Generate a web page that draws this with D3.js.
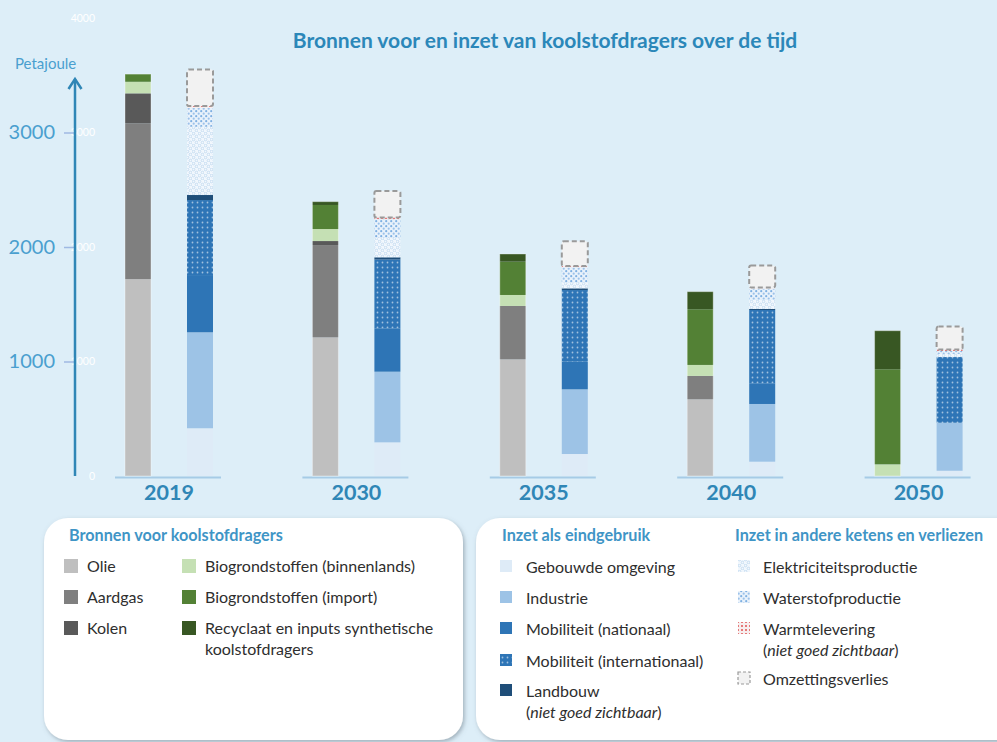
<!DOCTYPE html>
<meta charset="utf-8">
<style>
    body { margin: 0; background: #ddeef8; }
    svg { display: block; font-family: Lato, "Open Sans", sans-serif; }
    .leg text { font-size: 16px; fill: #2e2e2e; }
    .leg .head { font-size: 16.2px; font-weight: bold; fill: #3f95c6; }
</style>
<body>
<script src="https://d3js.org/d3.v7.min.js"></script>
<script>
    var width = 997,
        height = 742;

    // values in petajoule
    var years = ["2019", "2030", "2035", "2040", "2050"];

    // bronnen (left bar)
    var olie       = [1720, 1211, 1019, 670, 0];
    var aardgas    = [1360, 806, 466, 204, 0];
    var kolen      = [262, 35, 0, 0, 0];
    var bioBinnen  = [101, 105, 96, 96, 102];
    var bioImport  = [67, 210, 291, 486, 830];
    var recyclaat  = [0, 29, 67, 154, 337];

    // inzet (right bar)
    var gebouwd       = [417, 294, 192, 125, 46];
    var industrie     = [838, 617, 565, 504, 419];
    var mobNat        = [500, 379, 241, 181, 0];
    var mobInt        = [655, 601, 626, 640, 574];
    var landbouw      = [44, 19, 15, 9, 0];
    var elektriciteit = [597, 169, 52, 81, 26];
    var waterstof     = [163, 162, 131, 96, 26];
    var warmte        = [17, 16, 11, 11, 13];
    var omzetting     = [320, 233, 218, 192, 201];

    var yTicks = [1000, 2000, 3000];
    var ghostTicks = [0, 1000, 2000, 3000, 4000];

    var bronKeys = ["olie", "aardgas", "kolen", "bioBinnen", "bioImport", "recyclaat"];
    var inzetKeys = ["gebouwd", "industrie", "mobNat", "mobInt", "landbouw",
                     "elektriciteit", "waterstof", "warmte", "omzetting"];

    var bronData = years.map(function(y, i) {
        return {year: y, olie: olie[i], aardgas: aardgas[i], kolen: kolen[i],
                bioBinnen: bioBinnen[i], bioImport: bioImport[i], recyclaat: recyclaat[i]};
    });
    var inzetData = years.map(function(y, i) {
        return {year: y, gebouwd: gebouwd[i], industrie: industrie[i], mobNat: mobNat[i],
                mobInt: mobInt[i], landbouw: landbouw[i], elektriciteit: elektriciteit[i],
                waterstof: waterstof[i], warmte: warmte[i], omzetting: omzetting[i]};
    });

    var fills = {
        olie: "#bfbfbf", aardgas: "#7f7f7f", kolen: "#595959",
        bioBinnen: "#c5e0b4", bioImport: "#538135", recyclaat: "#385723",
        gebouwd: "#deebf7", industrie: "#9dc3e6", mobNat: "#2e75b6",
        mobInt: "url(#pMobInt)", landbouw: "#1f4e79",
        elektriciteit: "url(#pElek)", waterstof: "url(#pWater)",
        warmte: "url(#pWarmte)", omzetting: "#f2f2f2"
    };

    var svg = d3.select("body").append("svg")
        .attr("width", width)
        .attr("height", height);

    // patterns
    var defs = svg.append("defs");

    var p = defs.append("pattern").attr("id", "pMobInt")
        .attr("width", 5).attr("height", 5).attr("patternUnits", "userSpaceOnUse");
    p.append("rect").attr("width", 5).attr("height", 5).attr("fill", "#2e75b6");
    p.append("circle").attr("cx", 2.5).attr("cy", 2.5).attr("r", 0.9)
        .attr("fill", "#ffffff").attr("opacity", 0.55);

    p = defs.append("pattern").attr("id", "pElek")
        .attr("width", 6).attr("height", 6).attr("patternUnits", "userSpaceOnUse");
    p.append("rect").attr("width", 6).attr("height", 6).attr("fill", "#f1f7fd");
    p.append("circle").attr("cx", 1.5).attr("cy", 1.5).attr("r", 1.3)
        .attr("fill", "none").attr("stroke", "#bcd5ee").attr("stroke-width", 0.8);
    p.append("circle").attr("cx", 4.5).attr("cy", 4.5).attr("r", 1.3)
        .attr("fill", "none").attr("stroke", "#bcd5ee").attr("stroke-width", 0.8);

    p = defs.append("pattern").attr("id", "pWater")
        .attr("width", 5).attr("height", 5).attr("patternUnits", "userSpaceOnUse");
    p.append("rect").attr("width", 5).attr("height", 5).attr("fill", "#e9f2fb");
    p.append("circle").attr("cx", 1.2).attr("cy", 1.2).attr("r", 1.1).attr("fill", "#7fb0e2");
    p.append("circle").attr("cx", 3.7).attr("cy", 3.7).attr("r", 1.1).attr("fill", "#9cc2ea");

    p = defs.append("pattern").attr("id", "pWarmte")
        .attr("width", 4).attr("height", 4).attr("patternUnits", "userSpaceOnUse");
    p.append("rect").attr("width", 4).attr("height", 4).attr("fill", "#f7eeee");
    p.append("circle").attr("cx", 2).attr("cy", 2).attr("r", 1).attr("fill", "#e05252");

    var shadow = defs.append("filter").attr("id", "shadow")
        .attr("x", "-5%").attr("y", "-5%").attr("width", "115%").attr("height", "120%");
    shadow.append("feDropShadow").attr("dx", 1.5).attr("dy", 2)
        .attr("stdDeviation", 2).attr("flood-color", "#5f6f7c").attr("flood-opacity", 0.5);

    // scales
    var x = d3.scaleBand()
        .domain(years)
        .range([75.3, 1012.3]);

    var side = d3.scalePoint()
        .domain(["bron", "inzet"])
        .range([-31, 31]);

    var barW = 26;

    var y = d3.scaleLinear()
        .domain([0, 4000])
        .range([476, 18]);

    function cx(year) { return x(year) + x.bandwidth() / 2; }

    // title
    svg.append("text")
        .attr("x", 545)
        .attr("y", 48)
        .attr("text-anchor", "middle")
        .style("font-size", "21px")
        .style("font-weight", "bold")
        .style("fill", "#2b87b9")
        .text("Bronnen voor en inzet van koolstofdragers over de tijd");

    // faint labels of the underlying axis
    svg.append("g")
        .attr("transform", "translate(98,0)")
        .call(d3.axisLeft(y).tickValues(ghostTicks).tickSize(0).tickPadding(3)
            .tickFormat(d3.format("d")))
        .call(function(g) {
            g.select(".domain").remove();
            g.selectAll("text").style("fill", "#ffffff").style("font-size", "10.5px")
                .style("font-family", "Lato, sans-serif");
        });

    // main axis
    var axis = svg.append("g")
        .attr("transform", "translate(75,0)")
        .call(d3.axisLeft(y).tickValues(yTicks).tickSize(11).tickPadding(9)
            .tickFormat(d3.format("d")));
    axis.select(".domain").remove();
    axis.selectAll(".tick line").attr("stroke", "#9fb9e3").attr("stroke-width", 1.5);
    axis.selectAll("text")
        .style("fill", "#4a9fcf")
        .style("font-size", "20px")
        .style("font-family", "Lato, sans-serif");

    svg.append("line")
        .attr("x1", 75).attr("x2", 75)
        .attr("y1", y(0)).attr("y2", 79)
        .attr("stroke", "#2f86b6").attr("stroke-width", 2.5);
    svg.append("path")
        .attr("d", "M68.5,89L75,79L81.5,89")
        .attr("fill", "none")
        .attr("stroke", "#2f86b6")
        .attr("stroke-width", 2.5);

    svg.append("text")
        .attr("x", 15)
        .attr("y", 69)
        .style("font-size", "15px")
        .style("fill", "#4a9fcf")
        .text("Petajoule");

    // base lines and year labels
    svg.selectAll(".base")
        .data(years)
        .enter().append("line")
        .attr("class", "base")
        .attr("x1", function(d) { return cx(d) - 54; })
        .attr("x2", function(d) { return cx(d) + 52; })
        .attr("y1", y(0) + 1.5)
        .attr("y2", y(0) + 1.5)
        .attr("stroke", "#a6cbe6")
        .attr("stroke-width", 2);

    svg.selectAll(".year")
        .data(years)
        .enter().append("text")
        .attr("class", "year")
        .attr("x", function(d) { return cx(d); })
        .attr("y", 500)
        .attr("text-anchor", "middle")
        .style("font-size", "21.5px")
        .style("font-weight", "bold")
        .style("fill", "#2f86b6")
        .text(function(d) { return d; });

    // stacked bars
    function drawStack(data, keys, pos) {
        var series = d3.stack().keys(keys)(data);
        svg.append("g").selectAll("g")
            .data(series)
            .enter().append("g")
            .attr("fill", function(s) { return fills[s.key]; })
            .selectAll("rect")
            .data(function(s) { return s.map(function(d) { d.key = s.key; return d; }); })
            .enter().append("rect")
            .filter(function(d) { return d[1] - d[0] > 0; })
            .attr("x", function(d) { return cx(d.data.year) + side(pos) - barW / 2; })
            .attr("y", function(d) { return y(d[1]); })
            .attr("width", barW)
            .attr("height", function(d) { return y(d[0]) - y(d[1]); })
            .attr("stroke", function(d) { return d.key === "omzetting" ? "#9a9a9a" : null; })
            .attr("stroke-width", function(d) { return d.key === "omzetting" ? 2 : null; })
            .attr("stroke-dasharray", function(d) { return d.key === "omzetting" ? "5,3" : null; })
            .attr("rx", function(d) { return d.key === "omzetting" ? 2 : 0; });
    }
    drawStack(bronData, bronKeys, "bron");
    drawStack(inzetData, inzetKeys, "inzet");

    // thin edge on the bars
    svg.append("g").selectAll("rect")
        .data(years)
        .enter().append("rect")
        .attr("x", function(d) { return cx(d) + side("bron") - barW / 2; })
        .attr("y", function(d, i) { return y(olie[i] + aardgas[i] + kolen[i] + bioBinnen[i] + bioImport[i] + recyclaat[i]); })
        .attr("width", barW)
        .attr("height", function(d, i) { return y(0) - y(olie[i] + aardgas[i] + kolen[i] + bioBinnen[i] + bioImport[i] + recyclaat[i]); })
        .attr("fill", "none")
        .attr("stroke", "#ffffff")
        .attr("stroke-opacity", 0.35)
        .attr("stroke-width", 1);

    // legend boxes
    var leg = svg.append("g").attr("class", "leg");

    leg.append("rect")
        .attr("x", 44).attr("y", 518).attr("width", 419).attr("height", 222)
        .attr("rx", 24).attr("fill", "#ffffff").attr("filter", "url(#shadow)");
    leg.append("rect")
        .attr("x", 476).attr("y", 518).attr("width", 560).attr("height", 222)
        .attr("rx", 24).attr("fill", "#ffffff").attr("filter", "url(#shadow)");

    leg.append("text").attr("class", "head").attr("x", 69).attr("y", 541)
        .text("Bronnen voor koolstofdragers");
    leg.append("text").attr("class", "head").attr("x", 502).attr("y", 541)
        .text("Inzet als eindgebruik");
    leg.append("text").attr("class", "head").attr("x", 735).attr("y", 541)
        .text("Inzet in andere ketens en verliezen");

    var legBron = [
        {key: "olie", sx: 64, tx: 87, y: 572, lines: ["Olie"]},
        {key: "aardgas", sx: 64, tx: 87, y: 603, lines: ["Aardgas"]},
        {key: "kolen", sx: 64, tx: 87, y: 634, lines: ["Kolen"]},
        {key: "bioBinnen", sx: 182, tx: 205, y: 572, lines: ["Biogrondstoffen (binnenlands)"]},
        {key: "bioImport", sx: 182, tx: 205, y: 603, lines: ["Biogrondstoffen (import)"]},
        {key: "recyclaat", sx: 182, tx: 205, y: 634, lines: ["Recyclaat en inputs synthetische", "koolstofdragers"]},
        {key: "gebouwd", sx: 500, tx: 526, y: 573, lines: ["Gebouwde omgeving"]},
        {key: "industrie", sx: 500, tx: 526, y: 604, lines: ["Industrie"]},
        {key: "mobNat", sx: 500, tx: 526, y: 635, lines: ["Mobiliteit (nationaal)"]},
        {key: "mobInt", sx: 500, tx: 526, y: 667, lines: ["Mobiliteit (internationaal)"]},
        {key: "landbouw", sx: 500, tx: 526, y: 697, lines: ["Landbouw", "(|niet goed zichtbaar|)"]},
        {key: "elektriciteit", sx: 738, tx: 763, y: 573, lines: ["Elektriciteitsproductie"]},
        {key: "waterstof", sx: 738, tx: 763, y: 604, lines: ["Waterstofproductie"]},
        {key: "warmte", sx: 738, tx: 763, y: 635, lines: ["Warmtelevering", "(|niet goed zichtbaar|)"]},
        {key: "omzetting", sx: 738, tx: 763, y: 685, lines: ["Omzettingsverlies"]}
    ];

    var items = leg.selectAll(".item")
        .data(legBron)
        .enter().append("g")
        .attr("class", "item");

    items.append("rect")
        .attr("x", function(d) { return d.sx; })
        .attr("y", function(d) { return d.y - 13; })
        .attr("width", function(d) { return d.sx < 480 ? 14 : 12; })
        .attr("height", function(d) { return d.sx < 480 ? 14 : 12; })
        .attr("fill", function(d) { return fills[d.key]; })
        .attr("stroke", function(d) { return d.key === "omzetting" ? "#9a9a9a" : null; })
        .attr("stroke-width", function(d) { return d.key === "omzetting" ? 1.2 : null; })
        .attr("stroke-dasharray", function(d) { return d.key === "omzetting" ? "3,2" : null; });

    items.each(function(d) {
        var g = d3.select(this);
        d.lines.forEach(function(line, j) {
            var t = g.append("text")
                .attr("x", d.tx)
                .attr("y", d.y + j * 21);
            // parts between bars are italic
            line.split("|").forEach(function(part, k) {
                t.append("tspan")
                    .style("font-style", k % 2 ? "italic" : "normal")
                    .text(part);
            });
        });
    });
</script>
</body>
</html>
